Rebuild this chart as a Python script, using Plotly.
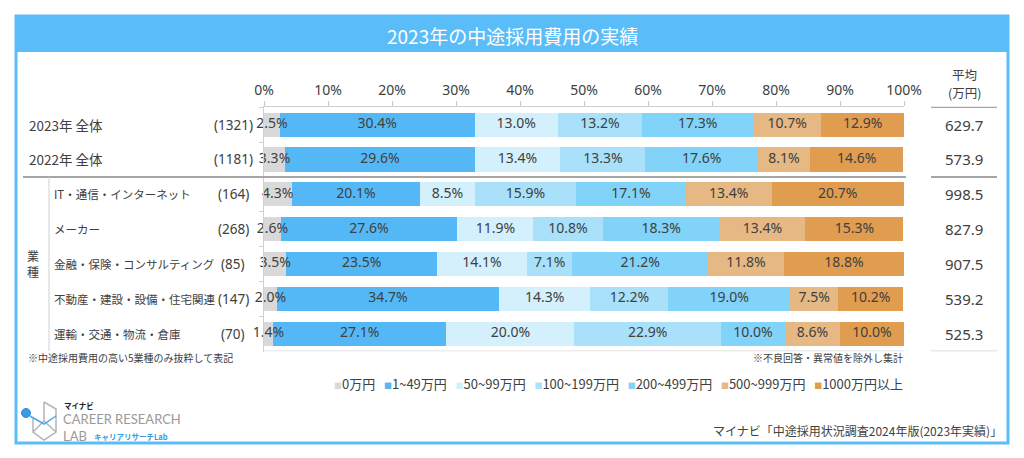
import plotly.graph_objects as go

# ---------------- data ----------------
categories = ["2023年 全体", "2022年 全体", "IT・通信・インターネット", "メーカー",
              "金融・保険・コンサルティング", "不動産・建設・設備・住宅関連", "運輸・交通・物流・倉庫"]
sample_sizes = ["(1321)", "(1181)", "(164)", "(268)", "(85)", "(147)", "(70)"]
averages = [629.7, 573.9, 998.5, 827.9, 907.5, 539.2, 525.3]

series_names = ["0万円", "1~49万円", "50~99万円", "100~199万円", "200~499万円", "500~999万円", "1000万円以上"]
v_0 = [2.5, 3.3, 4.3, 2.6, 3.5, 2.0, 1.4]
v_1_49 = [30.4, 29.6, 20.1, 27.6, 23.5, 34.7, 27.1]
v_50_99 = [13.0, 13.4, 8.5, 11.9, 14.1, 14.3, 20.0]
v_100_199 = [13.2, 13.3, 15.9, 10.8, 7.1, 12.2, 22.9]
v_200_499 = [17.3, 17.6, 17.1, 18.3, 21.2, 19.0, 10.0]
v_500_999 = [10.7, 8.1, 13.4, 13.4, 11.8, 7.5, 8.6]
v_1000 = [12.9, 14.6, 20.7, 15.3, 18.8, 10.2, 10.0]
series_values = [v_0, v_1_49, v_50_99, v_100_199, v_200_499, v_500_999, v_1000]

x_tick_values = [0, 10, 20, 30, 40, 50, 60, 70, 80, 90, 100]
x_tick_labels = ["0%", "10%", "20%", "30%", "40%", "50%", "60%", "70%", "80%", "90%", "100%"]

title_text = "2023年の中途採用費用の実績"
note_left = "※中途採用費用の高い5業種のみ抜粋して表記"
note_right = "※不良回答・異常値を除外し集計"
source_text = "マイナビ「中途採用状況調査2024年版(2023年実績)」"

# ---------------- style ----------------
OFF = 8                      # default page margin around the figure
W, H = 1024 - 2 * OFF, 458 - 2 * OFF
colors = ["#D9D9D9", "#55B8F6", "#D4F0FC", "#A9E1FA", "#82D3F9", "#E6B883", "#E09C4F"]
FRAME = "#5BBDF7"
TXT = "#404040"
JP = "Noto Sans CJK JP, Noto Sans, sans-serif"
NUM = "Noto Sans, Noto Sans CJK JP, sans-serif"


def px(x):
    return (x - OFF) / W


def py(y):
    return 1 - (y - OFF) / H


fig = go.Figure()
for name, vals, col in zip(series_names, series_values, colors):
    fig.add_trace(go.Bar(
        y=categories, x=vals, name=name, orientation="h",
        marker=dict(color=col, line=dict(width=0)),
        showlegend=False, hoverinfo="x+name",
    ))

# segment value labels, drawn above all bars at each segment's centre
base = [0.0] * len(categories)
for name, vals in zip(series_names, series_values):
    mids = [b + v / 2 for b, v in zip(base, vals)]
    fig.add_trace(go.Scatter(
        x=mids, y=categories, mode="text", text=[f"{v:.1f}%" for v in vals],
        textposition="middle center", textfont=dict(color=TXT, size=14, family=NUM),
        cliponaxis=False, showlegend=False, hoverinfo="skip", name=name,
    ))
    base = [b + v for b, v in zip(base, vals)]

shapes = []
annotations = []


def note(text, x, y, size, color=TXT, family=JP, xanchor="center", yanchor="middle", yref="paper"):
    annotations.append(dict(text=text, xref="paper", yref=yref, x=x, y=y, xanchor=xanchor, yanchor=yanchor,
                            showarrow=False, font=dict(color=color, size=size, family=family)))


# outer frame and title bar
shapes.append(dict(type="rect", xref="paper", yref="paper", x0=px(16), x1=px(1008), y0=py(443), y1=py(16),
                   line=dict(color=FRAME, width=3), fillcolor="rgba(0,0,0,0)"))
shapes.append(dict(type="rect", xref="paper", yref="paper", x0=px(16), x1=px(1008), y0=py(52), y1=py(16),
                   line=dict(color=FRAME, width=0), fillcolor=FRAME))
note(title_text, px(512), py(35), 19, color="white")

# separators
shapes.append(dict(type="line", xref="paper", yref="y", x0=px(23), x1=px(906), y0=1.5, y1=1.5,
                   line=dict(color="#A6A6A6", width=2)))
shapes.append(dict(type="line", xref="paper", yref="y", x0=px(931), x1=px(997), y0=1.5, y1=1.5,
                   line=dict(color="#A6A6A6", width=2)))
shapes.append(dict(type="line", xref="paper", yref="y", x0=px(931), x1=px(997), y0=-0.5, y1=-0.5,
                   line=dict(color="#A6A6A6", width=1.5)))
shapes.append(dict(type="line", xref="paper", yref="y", x0=px(931), x1=px(997), y0=6.5, y1=6.5,
                   line=dict(color="#D0D0D0", width=1)))
shapes.append(dict(type="line", xref="x", yref="y", x0=0, x1=100, y0=6.5, y1=6.5,
                   line=dict(color="#D9D9D9", width=1)))
shapes.append(dict(type="line", xref="paper", yref="y", x0=px(49), x1=px(49), y0=1.5, y1=6.5,
                   line=dict(color="#D0D0D0", width=1)))

# row labels
for i, (cat, n, avg) in enumerate(zip(categories, sample_sizes, averages)):
    if i < 2:
        note(cat, px(27), cat, 13.5, xanchor="left", yref="y")
    else:
        note(cat, px(52), cat, 11.5, xanchor="left", yref="y")
    note(n, px(233), cat, 13.5, family=NUM, yref="y")
    note(f"{avg:.1f}", px(964), cat, 15, family=NUM, yref="y")

note("業<br>種", px(33), categories[4], 12, yref="y")
note("平均", px(964), py(74), 12.5)
note("(万円)", px(964), py(92), 12.5)

# notes
note(note_left, px(26), py(357), 10, xanchor="left")
note(note_right, px(905), py(357), 10, xanchor="right")

# legend (drawn as text)
parts = []
for name, col in zip(series_names, colors):
    parts.append(f"<span style='color:{col};font-size:8px'>■</span>{name}")
legend_text = "\u00a0\u00a0\u00a0".join(parts)
note(legend_text, px(905), py(383), 13, xanchor="right")

# source
note(source_text, px(1004), py(430), 12, xanchor="right")

# logo
shapes.append(dict(type="path", xref="paper", yref="paper",
                   path=(f"M{px(44)},{py(402)} L{px(56)},{py(409)} L{px(56)},{py(432)} L{px(44)},{py(440)} "
                         f"L{px(33)},{py(432)} L{px(33)},{py(418)} M{px(44)},{py(402)} L{px(44)},{py(421)} "
                         f"L{px(33)},{py(432)} M{px(44)},{py(421)} L{px(56)},{py(432)}"),
                   line=dict(color="#B5B5B5", width=1.5)))
shapes.append(dict(type="path", xref="paper", yref="paper",
                   path=f"M{px(30)},{py(416)} L{px(44)},{py(424)} L{px(56)},{py(416)}",
                   line=dict(color="#4AA8E8", width=1.5)))
shapes.append(dict(type="circle", xref="paper", yref="paper", x0=px(21.5), x1=px(30.5), y0=py(417.5), y1=py(408.5),
                   line=dict(color="#2F8FD8", width=1), fillcolor="#3A9BE0"))
note("<b>マイナビ</b>", px(62), py(405), 7.5, color="#222222", xanchor="left")
note("CAREER RESEARCH", px(61), py(419), 13, color="#9A9A9A", family="Lato, Noto Sans, sans-serif", xanchor="left")
note("LAB", px(61), py(436), 13, color="#9A9A9A", family="Lato, Noto Sans, sans-serif", xanchor="left")
note("<b>キャリアリサーチLab</b>", px(92), py(436), 7.5, color="#3A9BE0", xanchor="left")

fig.update_layout(
    width=W, height=H,
    margin=dict(l=0, r=0, t=0, b=0, autoexpand=False),
    paper_bgcolor="white", plot_bgcolor="white",
    barmode="stack", bargap=0.31,
    showlegend=False,
    shapes=shapes, annotations=annotations,
    font=dict(family=JP, color=TXT),
    xaxis=dict(domain=[px(264), px(904)], range=[0, 100], side="top",
               tickvals=x_tick_values, ticktext=x_tick_labels,
               showgrid=False, zeroline=False, showline=True, linecolor="#D0D0D0", linewidth=1,
               ticks="outside", ticklen=5, tickcolor="#C8C8C8",
               tickfont=dict(size=14, color=TXT, family=NUM), fixedrange=True),
    yaxis=dict(domain=[py(351.5), py(106.5)], categoryorder="array", categoryarray=categories,
               autorange="reversed", showticklabels=False, showgrid=False, zeroline=False,
               showline=True, linecolor="#D0D0D0", linewidth=1,
               ticks="outside", tickson="boundaries", ticklen=4, tickcolor="#D0D0D0", fixedrange=True),
)

fig.write_html("out.html")
